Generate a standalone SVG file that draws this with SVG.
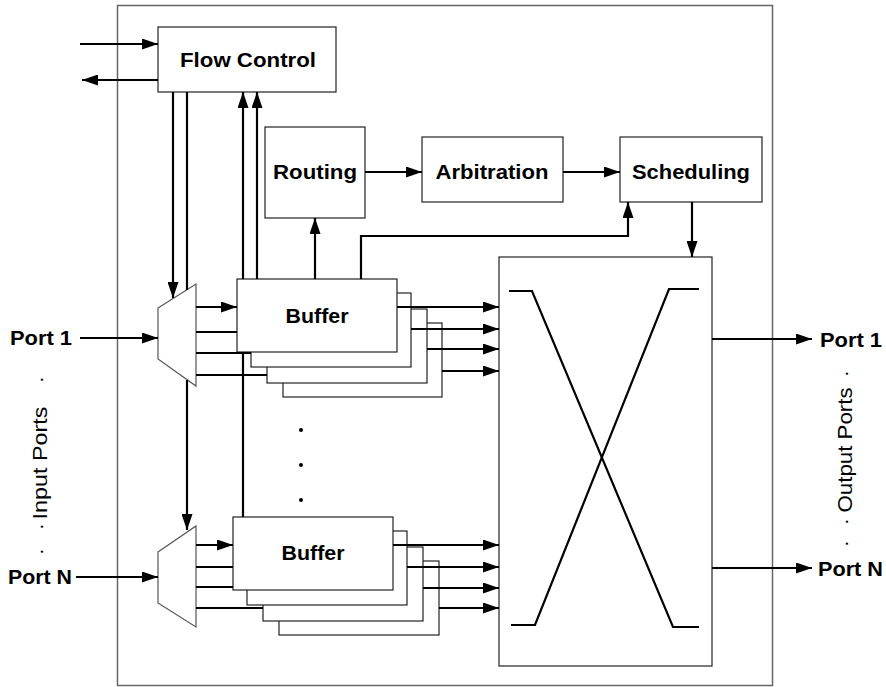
<svg xmlns="http://www.w3.org/2000/svg" width="886" height="687" viewBox="0 0 886 687">
<defs>
<marker id="ah" markerUnits="userSpaceOnUse" markerWidth="17" markerHeight="11" refX="16" refY="5.5" orient="auto">
<path d="M0,0 L16,5.5 L0,11 z" fill="#000"/>
</marker>
<style>
.box{fill:#fff;stroke:#222;stroke-width:1.2}
.outer{fill:#fff;stroke:#666;stroke-width:1.5}
.mux{fill:#fff;stroke:#555;stroke-width:1.2}
.c{fill:none;stroke:#000;stroke-width:2.2}
.a{fill:none;stroke:#000;stroke-width:2.2;marker-end:url(#ah)}
.lbl{font-family:"Liberation Sans",Arial,sans-serif;font-weight:bold;font-size:21px;fill:#000}
.vl{font-family:"Liberation Sans",Arial,sans-serif;font-size:20px;fill:#000}
</style>
</defs>
<rect class="outer" x="117.5" y="5.5" width="655" height="680"/>

<g id="flow-control"><rect class="box" x="158" y="27" width="178" height="65"/><text class="lbl" x="248" y="67" text-anchor="middle" textLength="136" lengthAdjust="spacingAndGlyphs">Flow Control</text></g>
<g id="routing"><rect class="box" x="265" y="127" width="100" height="91"/><text class="lbl" x="315" y="179" text-anchor="middle" textLength="84" lengthAdjust="spacingAndGlyphs">Routing</text></g>
<g id="arbitration"><rect class="box" x="422" y="137" width="141" height="65"/><text class="lbl" x="492" y="179" text-anchor="middle" textLength="113" lengthAdjust="spacingAndGlyphs">Arbitration</text></g>
<g id="scheduling"><rect class="box" x="620" y="137" width="142" height="65"/><text class="lbl" x="691" y="179" text-anchor="middle" textLength="118" lengthAdjust="spacingAndGlyphs">Scheduling</text></g>

<g id="switch">
<rect class="box" x="499" y="257" width="213" height="409"/>
<path class="c" d="M509,291 H532 L673,627 H699"/>
<path class="c" d="M699,289 H669 L535,625 H511"/>
</g>

<g id="demux-1"><polygon class="mux" points="158,308 196,284 196,386 158,359"/></g>
<g id="demux-n"><polygon class="mux" points="158,552 196,526 196,627 158,603"/></g>

<g id="buffer-1">
<rect class="box" x="283" y="323" width="159" height="74"/>
<rect class="box" x="267" y="309" width="160" height="74"/>
<rect class="box" x="251" y="293" width="160" height="74"/>
<rect class="box" x="237" y="279" width="160" height="73"/>
<text class="lbl" x="317" y="323" text-anchor="middle" textLength="63" lengthAdjust="spacingAndGlyphs">Buffer</text>
</g>
<g id="buffer-n">
<rect class="box" x="279" y="561" width="160" height="74"/>
<rect class="box" x="263" y="547" width="160" height="74"/>
<rect class="box" x="247" y="531" width="160" height="74"/>
<rect class="box" x="233" y="517" width="160" height="73"/>
<text class="lbl" x="313" y="560" text-anchor="middle" textLength="63" lengthAdjust="spacingAndGlyphs">Buffer</text>
</g>

<g id="dots">
<circle cx="301" cy="430" r="2"/><circle cx="301" cy="465" r="2"/><circle cx="301" cy="500" r="2"/>
</g>

<g id="ports">
<text class="lbl" x="10" y="345" textLength="62" lengthAdjust="spacingAndGlyphs">Port 1</text>
<text class="lbl" x="8" y="584" textLength="64" lengthAdjust="spacingAndGlyphs">Port N</text>
<text class="lbl" x="820" y="347" textLength="62" lengthAdjust="spacingAndGlyphs">Port 1</text>
<text class="lbl" x="818" y="576" textLength="65" lengthAdjust="spacingAndGlyphs">Port N</text>
<text class="vl" transform="translate(47,463) rotate(-90)"><tspan x="-92" y="0">·</tspan><tspan x="-67" y="0">·</tspan><tspan x="0" y="0" text-anchor="middle" textLength="113" lengthAdjust="spacingAndGlyphs">Input Ports</tspan><tspan x="80" y="0">·</tspan></text>
<text class="vl" transform="translate(852,450) rotate(-90)"><tspan x="-97" y="0">·</tspan><tspan x="-75" y="0">·</tspan><tspan x="0" y="0" text-anchor="middle" textLength="125" lengthAdjust="spacingAndGlyphs">Output Ports</tspan><tspan x="73" y="0">·</tspan></text>
</g>

<g id="connectors">
<path class="a" d="M80,44 H158"/>
<path class="a" d="M158,80 H82"/>
<path class="a" d="M173,92 V298"/>
<path class="a" d="M187,92 V290 M187,380 V530"/>
<path class="a" d="M243,517 V352 M243,279 V92"/>
<path class="a" d="M257,279 V92"/>
<path class="a" d="M315,279 V218"/>
<path class="a" d="M361,279 V236 H628 V202"/>
<path class="a" d="M365,172 H422"/>
<path class="a" d="M563,172 H620"/>
<path class="a" d="M692,202 V257"/>
<path class="a" d="M80,338 H158"/>
<path class="a" d="M76,577 H158"/>
<path class="a" d="M196,307 H237"/>
<path class="c" d="M196,332 H237"/>
<path class="c" d="M196,353 H251"/>
<path class="c" d="M196,375 H267"/>
<path class="a" d="M196,545 H233"/>
<path class="c" d="M196,567 H233"/>
<path class="c" d="M196,587 H233"/>
<path class="c" d="M196,608 H263"/>
<path class="a" d="M397,307 H499"/>
<path class="a" d="M411,329 H499"/>
<path class="a" d="M427,349 H499"/>
<path class="a" d="M442,371 H499"/>
<path class="a" d="M393,545 H499"/>
<path class="a" d="M407,567 H499"/>
<path class="a" d="M423,588 H499"/>
<path class="a" d="M439,608 H499"/>
<path class="a" d="M712,339 H812"/>
<path class="a" d="M712,568 H812"/>
</g>
</svg>
